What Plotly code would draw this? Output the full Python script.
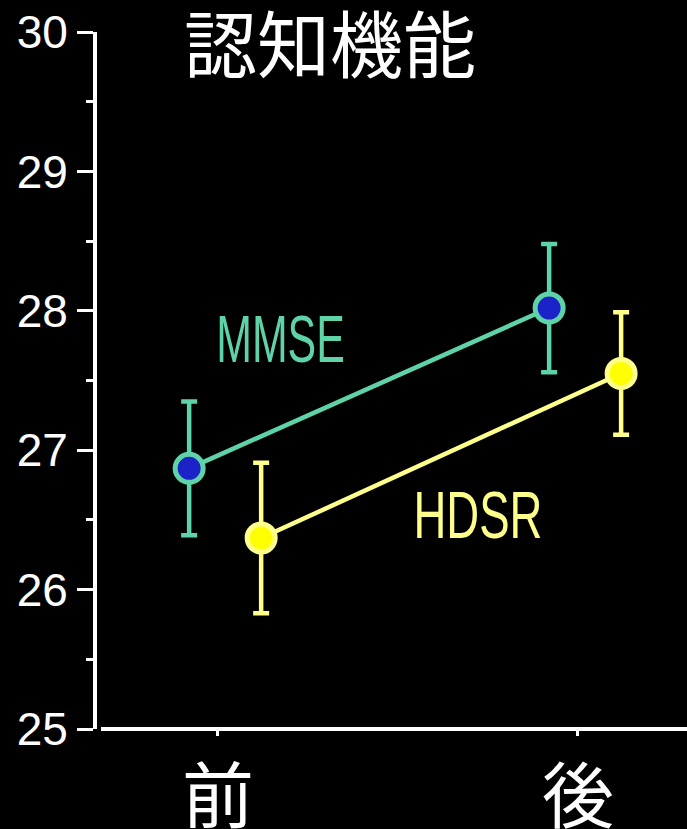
import plotly.graph_objects as go

# Cognitive scores before/after
phases = ["前", "後"]
mmse_mean = [26.87, 28.02]
mmse_err = [0.48, 0.46]
hdsr_mean = [26.37, 27.55]
hdsr_err = [0.54, 0.44]
y_ticks = [25, 26, 27, 28, 29, 30]

W, H = 687, 829
ML, MR, MT, MB = 97, 0, 32, 100
PW, PH = W - ML - MR, H - MT - MB

x_pos = list(range(len(phases)))
mmse_off = -0.08
hdsr_off = 0.12

mmse_line = "#5fd3a8"
mmse_fill = "#1a22c8"
hdsr_line = "#ffff8c"
hdsr_fill = "#ffff00"

fig = go.Figure()

for means, errs, off, lc, fc in [
    (mmse_mean, mmse_err, mmse_off, mmse_line, mmse_fill),
    (hdsr_mean, hdsr_err, hdsr_off, hdsr_line, hdsr_fill),
]:
    fig.add_trace(go.Scatter(
        x=[p + off for p in x_pos], y=means,
        mode="lines+markers",
        line=dict(color=lc, width=4.5),
        marker=dict(size=28, color=fc, line=dict(color=lc, width=5)),
        error_y=dict(type="data", array=errs, color=lc, thickness=4.5, width=8),
        showlegend=False,
    ))

label_font = "Liberation Sans, Arial, sans-serif"
fig.add_annotation(x=0.175, y=27.8, text="MMSE", showarrow=False,
                   font=dict(family=label_font, size=67, color=mmse_line))
fig.add_annotation(x=0.722, y=26.54, text="HDSR", showarrow=False,
                   font=dict(family=label_font, size=67, color=hdsr_line))

fig.add_annotation(x=(330 - ML) / PW, y=(H - MB - 40) / PH,
                   xref="paper", yref="paper", text="認知機能",
                   showarrow=False, borderpad=0, yanchor="middle",
                   font=dict(family="Noto Sans CJK JP", size=73, color="white"))

# x axis baseline, starting just right of the y axis
fig.add_shape(type="line", xref="paper", yref="paper",
              x0=4 / PW, x1=1, y0=0, y1=0,
              line=dict(color="white", width=4))

fig.update_layout(
    width=W, height=H,
    margin=dict(l=ML, r=MR, t=MT, b=MB, autoexpand=False),
    paper_bgcolor="black", plot_bgcolor="black",
    xaxis=dict(
        range=[-0.336, 1.303], tickvals=x_pos, ticktext=phases,
        showgrid=False, zeroline=False, showline=False, automargin=False,
        ticks="outside", ticklen=6, tickwidth=3, tickcolor="white",
        tickfont=dict(family="Noto Sans CJK JP", size=72, color="white"),
    ),
    yaxis=dict(
        range=[25, 30], tickvals=y_ticks, automargin=False,
        showgrid=False, zeroline=False,
        showline=True, linecolor="white", linewidth=4,
        ticks="outside", ticklen=16, tickwidth=3, tickcolor="white",
        minor=dict(dtick=0.5, ticks="outside", ticklen=7, tickwidth=3, tickcolor="white"),
        tickfont=dict(family="Liberation Sans, Arial, sans-serif", size=46, color="white"),
    ),
)

# Condense the series labels horizontally
post = """
var squeeze = {'MMSE': 0.64, 'HDSR': 0.68};
document.querySelectorAll('.annotation-text').forEach(function(t){
  var k = squeeze[t.textContent];
  if (k) {
    t.style.transformBox = 'fill-box';
    t.style.transformOrigin = 'center';
    t.style.transform = 'scaleX(' + k + ')';
  }
});
"""
fig.write_html("out.html", post_script=post)
